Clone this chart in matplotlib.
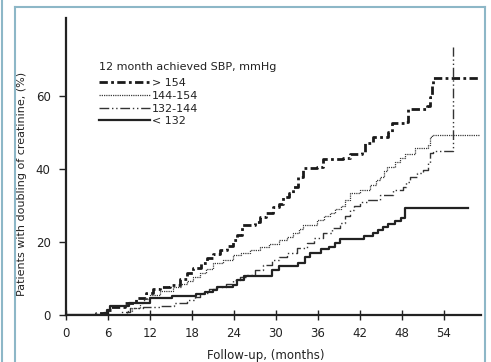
import matplotlib
matplotlib.use("Agg")
import matplotlib.pyplot as plt
from matplotlib.lines import Line2D

# ---- data ----
months_gt154 = [0, 4.3, 5.8, 6.5, 8.5, 10.0, 11.5, 12.5, 13.4, 14.9, 16.3, 17.3, 18.1, 19.3, 20.1,
                21.0, 22.0, 23.0, 23.9, 24.5, 25.2, 27.0, 27.7, 28.6, 29.6, 30.4, 31.0, 31.8, 32.4,
                33.1, 33.9, 35.9, 36.7, 39.6, 40.6, 42.3, 42.7, 43.9, 46.0, 46.6, 48.4, 48.9, 51.6,
                52.0, 52.3, 52.4, 59.6]
pct_gt154 = [0, 0.5, 1.5, 2.2, 3.3, 4.7, 6.0, 7.0, 7.7, 8.2, 10.0, 11.5, 12.9, 14.3, 15.6,
             16.6, 17.8, 19.0, 20.5, 22.0, 24.7, 25.5, 26.8, 28.0, 29.5, 30.5, 32.3, 33.5, 35.0,
             37.8, 40.3, 40.6, 42.7, 43.0, 44.2, 44.7, 47.1, 48.8, 50.1, 52.6, 52.9, 56.5, 57.3,
             59.7, 63.0, 65.0, 65.0]

months_144_154 = [0, 8.7, 9.5, 10.6, 11.2, 12.0, 13.5, 15.3, 16.5, 17.3, 18.1, 19.1, 20.0, 21.0,
                  22.5, 23.9, 25.0, 26.3, 27.7, 29.0, 30.5, 31.6, 32.5, 33.3, 33.9, 35.9, 36.8,
                  37.7, 38.5, 39.3, 39.9, 40.6, 42.0, 43.5, 44.3, 44.9, 45.5, 45.9, 47.0, 47.7,
                  48.5, 49.9, 51.7, 52.0, 52.3, 59.1]
pct_144_154 = [0, 1.0, 2.0, 3.3, 4.5, 5.5, 6.5, 7.7, 8.5, 9.2, 10.5, 11.5, 12.5, 14.2,
               15.0, 16.4, 17.0, 17.8, 18.6, 19.5, 20.5, 21.4, 22.5, 23.5, 24.7, 26.0, 27.0,
               27.9, 29.0, 30.0, 31.5, 33.4, 34.2, 35.5, 37.0, 37.8, 39.5, 40.5, 42.0, 43.0,
               44.2, 45.7, 46.6, 48.8, 49.3, 49.3]

months_132_144 = [0, 7.7, 9.1, 11.0, 13.4, 15.5, 17.3, 18.5, 19.1, 20.5, 21.6, 22.8, 23.9, 24.9,
                  25.8, 27.0, 28.1, 29.5, 30.5, 31.6, 33.0, 34.4, 35.5, 36.7, 38.0, 39.1, 39.8,
                  40.6, 41.2, 42.0, 43.0, 44.9, 46.7, 48.1, 48.6, 49.1, 50.1, 51.0, 51.7, 52.0,
                  52.4, 55.3]
pct_132_144 = [0, 0.8, 2.0, 2.2, 2.5, 3.2, 4.1, 5.0, 6.0, 7.0, 7.7, 8.6, 9.6, 10.3,
               11.0, 12.3, 13.7, 15.0, 16.0, 16.9, 18.3, 19.7, 21.0, 22.4, 23.8, 25.2, 27.0,
               28.8, 30.0, 31.0, 31.5, 32.9, 34.2, 35.0, 36.5, 37.8, 38.9, 39.7, 41.6, 44.4,
               44.9, 73.4]

months_lt132 = [0, 5.5, 5.9, 6.3, 9.0, 12.0, 15.2, 18.6, 19.8, 21.0, 21.6, 23.8, 24.4, 25.5,
                29.5, 30.4, 33.2, 34.1, 34.9, 36.4, 37.6, 38.4, 39.1, 42.6, 43.9, 44.6, 45.3,
                46.0, 47.0, 47.9, 48.4, 57.4]
pct_lt132 = [0, 0.6, 1.4, 2.4, 3.4, 4.6, 5.3, 5.8, 6.2, 6.8, 7.6, 8.3, 9.6, 10.6,
             12.2, 13.3, 14.2, 15.9, 16.9, 18.1, 18.6, 19.7, 20.8, 21.6, 22.4, 23.3, 24.1,
             24.9, 25.8, 26.6, 29.3, 29.3]

legend_title = "12 month achieved SBP, mmHg"
series_labels = ["> 154", "144-154", "132-144", "< 132"]
x_ticks = [0, 6, 12, 18, 24, 30, 36, 42, 48, 54]
y_ticks = [0, 20, 40, 60]

# ---- figure ----
W, H = 491, 362
fig = plt.figure(figsize=(W / 100, H / 100), dpi=100)
ax = fig.add_axes([66 / W, 1 - 315 / H, (481 - 66) / W, (315 - 18) / H])

ink = "#1a1a1a"
ax.plot(months_gt154, pct_gt154, drawstyle="steps-post", color=ink, lw=2.0,
        linestyle=(0, (3, 1.2, 1, 1.2)), label=series_labels[0])
ax.plot(months_144_154, pct_144_154, drawstyle="steps-post", color="#3a3a3a", lw=0.9,
        linestyle=(0, (1, 0.8)), label=series_labels[1])
ax.plot(months_132_144, pct_132_144, drawstyle="steps-post", color="#333333", lw=1.0,
        linestyle=(0, (7, 2, 1, 2, 1, 2)), label=series_labels[2])
ax.plot(months_lt132, pct_lt132, drawstyle="steps-post", color="#222222", lw=1.6,
        linestyle="-", label=series_labels[3])

ax.set_xlim(0, 59.3)
ax.set_ylim(0, 81.4)
ax.set_xticks(x_ticks)
ax.set_yticks(y_ticks)
for s in ["top", "right"]:
    ax.spines[s].set_visible(False)
for s in ["left", "bottom"]:
    ax.spines[s].set_linewidth(1.6)
    ax.spines[s].set_color("#222222")
ax.tick_params(axis="x", direction="inout", length=7, width=1.0, labelsize=8.5,
               pad=5, colors="#222222")
ax.tick_params(axis="y", direction="out", length=5, width=1.0, labelsize=8.5,
               pad=6, colors="#222222")

fig.text(22 / W, 1 - 184 / H, "Patients with doubling of creatinine, (%)", rotation=90,
         ha="center", va="center", fontsize=8, color="#222222")
fig.text(266 / W, 1 - 355 / H, "Follow-up, (months)", ha="center", va="center",
         fontsize=8.5, color="#222222")

fig.text(99 / W, 1 - 67 / H, legend_title, ha="left", va="center", fontsize=8,
         color="#222222")
leg = ax.legend(loc="upper left", bbox_to_anchor=(99 / W, 1 - 78 / H),
                bbox_transform=fig.transFigure, frameon=False, fontsize=8,
                handlelength=4.6, handletextpad=0.15, labelspacing=0.25,
                borderpad=0, borderaxespad=0)
for t in leg.get_texts():
    t.set_color("#222222")

# decorative light-blue frame of the panel
frame_c = "#8db7c7"
fig.add_artist(Line2D([15 / W, 15 / W], [0, 1 - 7 / H], color=frame_c, lw=1.5))
fig.add_artist(Line2D([15 / W, 485 / W], [1 - 7 / H, 1 - 7 / H], color=frame_c, lw=1.5))
fig.add_artist(Line2D([485 / W, 485 / W], [0, 1 - 7 / H], color=frame_c, lw=1.5))
fig.add_artist(Line2D([1.5 / W, 1.5 / W], [0, 1], color=frame_c, lw=1.5))

fig.savefig("out.png", dpi=100)
